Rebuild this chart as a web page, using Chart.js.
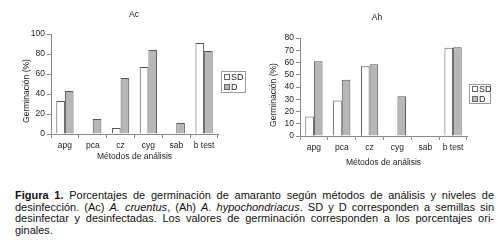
<!DOCTYPE html>
<html><head><meta charset="utf-8">
<script src="https://cdn.jsdelivr.net/npm/chart.js@4/dist/chart.umd.min.js"></script>
<style>
html,body{margin:0;padding:0;background:#fff;width:500px;height:250px;overflow:hidden;font-family:"Liberation Sans",Arial,sans-serif;}
canvas{position:absolute;top:0;}
#c1{left:0;} #c2{left:250px;}
#cap{position:absolute;left:15px;top:190px;width:479px;font-family:"Liberation Sans",Arial,sans-serif;font-size:11px;line-height:11.6px;color:#111;}
#cap div{text-align:justify;text-align-last:justify;white-space:nowrap;}
#cap div.last{text-align-last:left;}
</style></head><body>
<canvas id="c1" width="250" height="180"></canvas>
<canvas id="c2" width="250" height="180"></canvas>
<div id="cap">
<div><b>Figura 1.</b> Porcentajes de germinación de amaranto según métodos de análisis y niveles de</div>
<div>desinfección. (Ac) <i>A. cruentus</i>, (Ah) <i>A. hypochondriacus</i>. SD y D corresponden a semillas sin</div>
<div>desinfectar y desinfectadas. Los valores de germinación corresponden a los porcentajes ori-</div>
<div class="last">ginales.</div>
</div>
<script>
const categories = ['apg','pca','cz','cyg','sab','b test'];
const seriesNames = ['SD','D'];
const acSD = [33, 0, 6, 67, 0, 91];
const acD  = [43, 15, 56, 84, 11, 83];
const ahSD = [16, 29, 57, 0, 0, 72];
const ahD  = [61, 46, 58.5, 32.5, 0, 72.5];
const acTicks = [0, 20, 40, 60, 80, 100];
const ahTicks = [0, 10, 20, 30, 40, 50, 60, 70, 80];
const chartTitles = ['Ac', 'Ah'];
const xTitle = 'Métodos de análisis';
const yTitle = 'Germinación (%)';

const FONT = '"Liberation Sans", Arial, sans-serif';
const TXT = '#222';
const AX = '#8a8a8a';

const decor = {
  id: 'decor',
  afterDraw(chart, args, o) {
    const ctx = chart.ctx, a = chart.chartArea;
    ctx.save();
    ctx.fillStyle = TXT;
    ctx.font = '8.5px ' + FONT;
    ctx.textAlign = 'center';
    ctx.textBaseline = 'middle';
    ctx.fillText(o.title, o.titleX, o.titleY);
    ctx.fillText(o.xTitle, (a.left + a.right) / 2 + o.xTitleDX, o.xTitleY);
    ctx.save();
    ctx.translate(o.yTitleX, o.yTitleY);
    ctx.rotate(-Math.PI / 2);
    ctx.fillText(o.yTitle, 0, 0);
    ctx.restore();
    // legend
    const L = o.legend;
    ctx.strokeStyle = '#999';
    ctx.lineWidth = 1;
    ctx.strokeRect(L.x + 0.5, L.y + 0.5, L.w, L.h);
    ctx.textAlign = 'left';
    ctx.font = '9px ' + FONT;
    chart.data.datasets.forEach((ds, i) => {
      const cy = L.y + L.first + i * L.gap;
      ctx.fillStyle = ds.backgroundColor;
      ctx.fillRect(L.x + 3.5, cy - 2.5, 5, 5);
      ctx.strokeStyle = '#666';
      ctx.strokeRect(L.x + 3.5, cy - 2.5, 5, 5);
      ctx.fillStyle = TXT;
      ctx.fillText(ds.label, L.x + 10, cy + 0.5);
    });
    ctx.restore();
  }
};

function makeChart(id, sd, d, ticks, pad, xH, deco) {
  return new Chart(document.getElementById(id), {
    type: 'bar',
    data: {
      labels: categories,
      datasets: [
        { label: seriesNames[0], data: sd, backgroundColor: '#ffffff', borderColor: '#555',
          borderWidth: c => (c.raw === 0 ? 0 : 1), borderSkipped: 'bottom' },
        { label: seriesNames[1], data: d, backgroundColor: '#b7b7b7', borderColor: '#555',
          borderWidth: c => (c.raw === 0 ? 0 : 1), borderSkipped: 'bottom' }
      ]
    },
    options: {
      responsive: false,
      animation: false,
      events: [],
      layout: { padding: pad },
      categoryPercentage: 0.62,
      barPercentage: 1.0,
      plugins: { legend: { display: false }, title: { display: false }, tooltip: { enabled: false }, decor: deco },
      scales: {
        x: {
          grid: { display: true, drawOnChartArea: false, drawTicks: true, tickLength: 4, color: AX, offset: true },
          border: { color: AX, width: 1 },
          ticks: { color: TXT, font: { family: FONT, size: 8.5 }, padding: 3, maxRotation: 0, autoSkip: false },
          afterFit: s => { s.height = xH; }
        },
        y: {
          min: ticks[0], max: ticks[ticks.length - 1],
          afterBuildTicks: s => { s.ticks = ticks.map(v => ({ value: v })); },
          grid: { display: true, drawOnChartArea: false, drawTicks: true, tickLength: 4, color: AX },
          border: { color: AX, width: 1 },
          ticks: { color: TXT, font: { family: FONT, size: 8.5 }, padding: 2, autoSkip: false },
          afterFit: s => { s.width = pad.yW; }
        }
      }
    },
    plugins: [decor]
  });
}

makeChart('c1', acSD, acD, acTicks,
  { left: 0, top: 34, right: 32, bottom: 180 - 134 - 20, yW: 51 }, 20,
  { title: chartTitles[0], titleX: 134, titleY: 15, xTitle: xTitle, xTitleDX: 0, xTitleY: 157,
    yTitle: yTitle, yTitleX: 27, yTitleY: 91,
    legend: { x: 221, y: 71, w: 24, h: 21, first: 6, gap: 10 } });

makeChart('c2', ahSD, ahD, ahTicks,
  { left: 0, top: 38, right: 33, bottom: 180 - 136 - 20, yW: 50 }, 20,
  { title: chartTitles[1], titleX: 127, titleY: 18, xTitle: xTitle, xTitleDX: 0, xTitleY: 163,
    yTitle: yTitle, yTitleX: 24, yTitleY: 95,
    legend: { x: 219, y: 84, w: 21, h: 19, first: 5, gap: 10 } });
</script>
</body></html>
